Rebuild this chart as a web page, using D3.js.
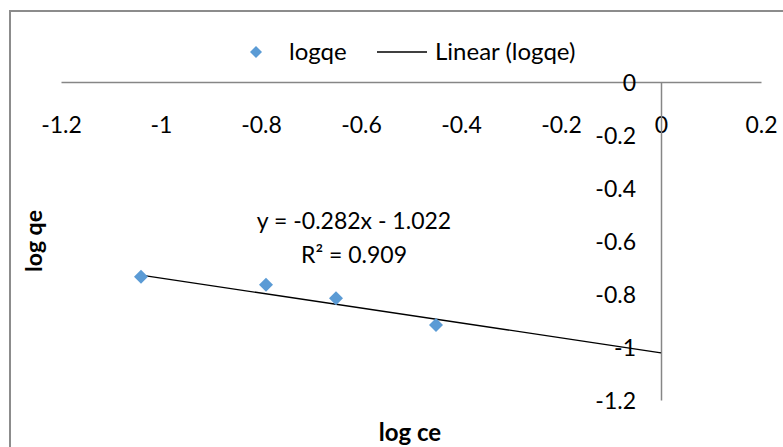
<!DOCTYPE html>
<html>
<head>
<meta charset="utf-8">
<title>log qe vs log ce</title>
<style>
  body { margin: 0; background: #fff; }
  svg text { font-family: Lato, "Open Sans", sans-serif; fill: #000; }
</style>
</head>
<body>
<svg width="783" height="447"></svg>
<script src="https://cdn.jsdelivr.net/npm/d3@7"></script>
<script>
  // data
  var logCe = [-1.04, -0.79, -0.65, -0.45];
  var logQe = [-0.735, -0.765, -0.816, -0.917];
  var xTicks = [-1.2, -1, -0.8, -0.6, -0.4, -0.2, 0, 0.2];
  var yTicks = [0, -0.2, -0.4, -0.6, -0.8, -1, -1.2];
  // linear trendline shown on the chart
  var slope = -0.282;
  var intercept = -1.022;
  var eqText = 'y = -0.282x - 1.022';
  var r2Text = '0.909';

  var blue = '#5b9bd5';
  var axisGrey = '#868686';

  var svg = d3.select('svg');

  svg.append('rect')
    .attr('width', 783).attr('height', 447)
    .attr('fill', '#fff');

  // chart frame (only the top and left edges show)
  svg.append('rect')
    .attr('x', 10).attr('y', 11)
    .attr('width', 800).attr('height', 460)
    .attr('fill', 'none')
    .attr('stroke', '#8c8c8c')
    .attr('stroke-width', 2);

  var x = d3.scaleLinear().domain([-1.2, 0.2]).range([61, 761]);
  var y = d3.scaleLinear().domain([-1.2, 0]).range([400, 82]);

  // x axis crosses at y = 0
  var xAxis = svg.append('g')
    .attr('transform', 'translate(0,' + y(0) + ')')
    .call(d3.axisBottom(x).tickValues(xTicks).tickSize(0)
      .tickFormat(function(d) { return String(d); }));
  xAxis.selectAll('text')
    .attr('y', 51).attr('dy', null)
    .style('font-size', '23px');

  // y axis crosses at x = 0
  var yAxis = svg.append('g')
    .attr('transform', 'translate(' + x(0) + ',0)')
    .call(d3.axisLeft(y).tickValues(yTicks).tickSize(0).tickPadding(25)
      .tickFormat(function(d) { return String(d); }));
  yAxis.selectAll('text')
    .attr('dy', '0.36em')
    .style('font-size', '23px');

  svg.selectAll('.domain')
    .attr('stroke', axisGrey)
    .attr('stroke-width', 1.5);

  // trendline, forecast forward to x = 0
  var trendX = [d3.min(logCe), 0];
  svg.append('line')
    .attr('x1', x(trendX[0])).attr('y1', y(slope * trendX[0] + intercept))
    .attr('x2', x(trendX[1])).attr('y2', y(slope * trendX[1] + intercept))
    .attr('stroke', '#000')
    .attr('stroke-width', 1.3);

  var diamond = d3.symbol().type(d3.symbolSquare).size(98);

  svg.selectAll('path.pt')
    .data(logCe)
    .enter().append('path')
      .attr('class', 'pt')
      .attr('d', diamond)
      .attr('fill', blue)
      .attr('transform', function(d, i) {
        return 'translate(' + x(d) + ',' + y(logQe[i]) + ') rotate(45)';
      });

  // equation label
  svg.append('text')
    .attr('x', 354).attr('y', 229)
    .attr('text-anchor', 'middle')
    .style('font-size', '23px')
    .text(eqText);
  svg.append('text')
    .attr('x', 354).attr('y', 263)
    .attr('text-anchor', 'middle')
    .style('font-size', '23px')
    .text('R\u00b2 = ' + r2Text);

  // legend
  svg.append('path')
    .attr('d', d3.symbol().type(d3.symbolSquare).size(72))
    .attr('fill', blue)
    .attr('transform', 'translate(256,52) rotate(45)');
  svg.append('text')
    .attr('x', 289).attr('y', 60)
    .style('font-size', '24px')
    .text('logqe');
  svg.append('line')
    .attr('x1', 377).attr('x2', 427)
    .attr('y1', 52).attr('y2', 52)
    .attr('stroke', '#000').attr('stroke-width', 1.3);
  svg.append('text')
    .attr('x', 435).attr('y', 60)
    .style('font-size', '24px')
    .text('Linear (logqe)');

  // axis titles
  svg.append('text')
    .attr('x', 410).attr('y', 441)
    .attr('text-anchor', 'middle')
    .style('font-size', '24px')
    .style('font-weight', 'bold')
    .text('log ce');
  svg.append('text')
    .attr('transform', 'translate(42,241) rotate(-90)')
    .attr('text-anchor', 'middle')
    .style('font-size', '23px')
    .style('font-weight', 'bold')
    .text('log qe');
</script>
</body>
</html>
